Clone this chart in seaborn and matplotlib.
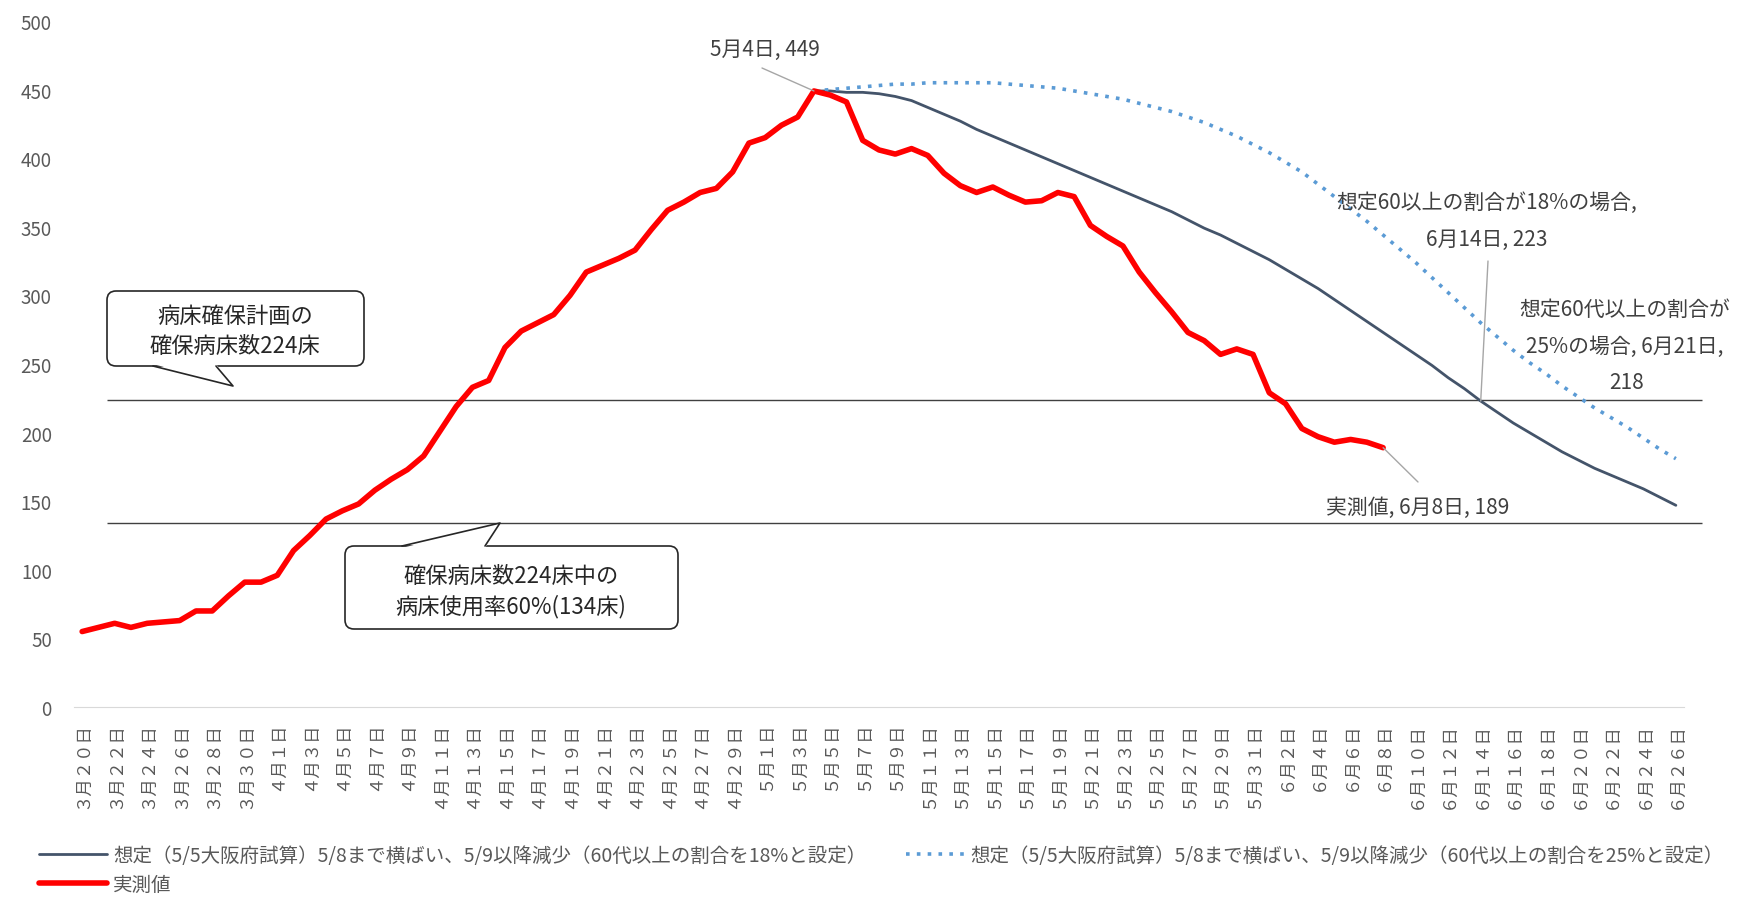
import pandas as pd
import matplotlib.pyplot as plt
import matplotlib.transforms as mtransforms
from matplotlib.patches import FancyBboxPatch, Polygon
from matplotlib.lines import Line2D
import seaborn as sns

# x axis: one category per day, 3/20 - 6/26
dates = pd.date_range("2021-03-20", "2021-06-26", freq="D")
fullwidth = str.maketrans("0123456789", "０１２３４５６７８９")
date_labels = [f"{d.month}月{d.day}日".translate(fullwidth) for d in dates]

# 実測値 (3/20 - 6/8)
actual = [55, 58, 61, 58, 61, 62, 63, 70, 70, 81,
          91, 91, 96, 114, 125, 137, 143, 148, 158, 166,
          173, 183, 201, 219, 233, 238, 262, 274, 280, 286,
          300, 317, 322, 327, 333, 348, 362, 368, 375, 378,
          390, 411, 415, 424, 430, 449, 446, 441, 413, 406,
          403, 407, 402, 389, 380, 375, 379, 373, 368, 369,
          375, 372, 351, 343, 336, 317, 302, 288, 273, 267,
          257, 261, 257, 229, 221, 203, 197, 193, 195, 193,
          189]

# projections start on 5/4
proj_start = 45
proj_18 = [449, 449, 448, 448, 447, 445, 442, 437, 432, 427,
           421, 416, 411, 406, 401, 396, 391, 386, 381, 376,
           371, 366, 361, 355, 349, 344, 338, 332, 326, 319,
           312, 305, 297, 289, 281, 273, 265, 257, 249, 240,
           232, 223, 215, 207, 200, 193, 186, 180, 174, 169,
           164, 159, 153, 147]
proj_25 = [449, 450, 451, 452, 453, 454, 454, 455, 455, 455,
           455, 455, 454, 453, 452, 451, 449, 447, 445, 443,
           440, 437, 434, 430, 426, 421, 416, 410, 404, 397,
           390, 381, 372, 363, 354, 344, 334, 324, 313, 302,
           291, 280, 270, 260, 251, 243, 234, 226, 218, 211,
           204, 196, 188, 181]

bed_levels = [224, 134]

legend_labels = [
    "想定（5/5大阪府試算）5/8まで横ばい、5/9以降減少（60代以上の割合を18%と設定）",
    "想定（5/5大阪府試算）5/8まで横ばい、5/9以降減少（60代以上の割合を25%と設定）",
    "実測値",
]

sns.set_style("white")
plt.rcParams["font.family"] = ["Noto Sans CJK JP", "DejaVu Sans"]

W, H = 1744, 903
fig = plt.figure(figsize=(W / 100, H / 100), dpi=100)
ax = fig.add_axes([74 / W, (H - 708) / H, (1684 - 74) / W, (708 - 22) / H])
# pixel coords measured from the top-left of the picture
px = mtransforms.Affine2D().scale(1 / W, -1 / H).translate(0, 1) + fig.transFigure

RED = "#FF0000"
GRAY = "#44546A"
BLUE = "#5B9BD5"
DOT = (0, (1, 2))

idx = list(range(len(dates)))
proj_idx = idx[proj_start:proj_start + len(proj_18)]

sns.lineplot(x=proj_idx, y=proj_18, ax=ax, color=GRAY, linewidth=2, legend=False)
sns.lineplot(x=proj_idx, y=proj_25, ax=ax, color=BLUE, linewidth=2.6,
             linestyle=DOT, legend=False)
sns.lineplot(x=idx[:len(actual)], y=actual, ax=ax, color=RED, linewidth=4,
             legend=False, solid_joinstyle="round")

ax.hlines(bed_levels, 0.0205, 1.0112, transform=ax.get_yaxis_transform(),
          colors="#404040", linewidth=1, clip_on=False, zorder=1)

ax.set_xlim(-0.5, len(dates) - 0.5)
ax.set_ylim(0, 500)
ax.set_yticks(range(0, 501, 50))
ax.set_xticks(idx[::2])
ax.set_xticklabels(date_labels[::2])
ax.tick_params(axis="y", length=0, pad=16, labelsize=13.5, labelcolor="#595959")
ax.tick_params(axis="x", length=0, pad=10, labelsize=12.5, labelcolor="#595959",
               labelrotation=90)
ax.set_xlabel("")
ax.set_ylabel("")
for side in ["top", "right", "left"]:
    ax.spines[side].set_visible(False)
ax.spines["bottom"].set_color("#D9D9D9")
ax.grid(False)

# data labels
label_color = "#404040"
label_size = 15
lead = dict(arrowstyle="-", color="#A6A6A6", lw=1, shrinkA=0, shrinkB=0)
peak_i = actual.index(max(actual))
ax.annotate("", xy=(peak_i, actual[peak_i]), xytext=(762, 69), textcoords=px,
            arrowprops=lead, annotation_clip=False)
fig.text(765, 50, f"{dates[peak_i].month}月{dates[peak_i].day}日, {actual[peak_i]}",
         transform=px, ha="center", va="center", fontsize=label_size, color=label_color)

i18 = 86
ax.annotate("", xy=(i18, proj_18[i18 - proj_start]), xytext=(1488, 262), textcoords=px,
            arrowprops=lead, annotation_clip=False)
fig.text(1487, 203, "想定60以上の割合が18%の場合,", transform=px, ha="center",
         va="center", fontsize=label_size, color=label_color)
fig.text(1487, 240, f"{dates[i18].month}月{dates[i18].day}日, {proj_18[i18 - proj_start]}",
         transform=px, ha="center", va="center", fontsize=label_size, color=label_color)

i25 = 93
fig.text(1625, 310, "想定60代以上の割合が", transform=px, ha="center", va="center",
         fontsize=label_size, color=label_color)
fig.text(1625, 347, f"25%の場合, {dates[i25].month}月{dates[i25].day}日,", transform=px,
         ha="center", va="center", fontsize=label_size, color=label_color)
fig.text(1627, 383, f"{proj_25[i25 - proj_start]}", transform=px, ha="center",
         va="center", fontsize=label_size, color=label_color)

last_i = len(actual) - 1
ax.annotate("", xy=(last_i, actual[last_i]), xytext=(1418, 483), textcoords=px,
            arrowprops=lead, annotation_clip=False)
fig.text(1418, 508, f"実測値, {dates[last_i].month}月{dates[last_i].day}日, {actual[last_i]}",
         transform=px, ha="center", va="center", fontsize=label_size, color=label_color)


def callout(box, wedge, lines, cx, ys):
    x0, y0, x1, y1 = box
    fig.patches.append(FancyBboxPatch((x0, y0), x1 - x0, y1 - y0,
                                      boxstyle="round,pad=0,rounding_size=9",
                                      transform=px, fc="white", ec="#262626", lw=1.2))
    (bl, br, yb), (tx, ty) = wedge
    inner = 2 if ty > yb else -2
    fig.patches.append(Polygon([(bl, yb - inner), (tx, ty), (br, yb - inner)],
                               closed=True, transform=px, fc="white", ec="none"))
    fig.lines.append(Line2D([bl, tx, br], [yb, ty, yb], transform=px,
                            color="#262626", lw=1.2))
    for s, y in zip(lines, ys):
        fig.text(cx, y, s, transform=px, ha="center", va="center",
                 fontsize=16, color="#262626")


callout((107, 292, 364, 367), ((153, 216, 367), (233, 387)),
        ["病床確保計画の", "確保病床数224床"], 235, [317, 347])
callout((345, 547, 678, 630), ((402, 485, 547), (500, 524)),
        ["確保病床数224床中の", "病床使用率60%(134床)"], 511, [577, 607])

# legend
h18 = Line2D([], [], color=GRAY, lw=2)
h25 = Line2D([], [], color=BLUE, lw=2.6, linestyle=DOT)
hact = Line2D([], [], color=RED, lw=4)
fig.legend([h18, hact], [legend_labels[0], legend_labels[2]], loc="upper left",
           bbox_to_anchor=(39 / W, 1 - 846 / H), frameon=False, fontsize=14,
           labelcolor="#595959", handlelength=3.5, handletextpad=0.3,
           labelspacing=0.4, borderpad=0, borderaxespad=0)
fig.legend([h25], [legend_labels[1]], loc="upper left",
           bbox_to_anchor=(906 / W, 1 - 846 / H), frameon=False, fontsize=14,
           labelcolor="#595959", handlelength=3.0, handletextpad=0.3,
           borderpad=0, borderaxespad=0)

fig.savefig("out.png", dpi=100)
